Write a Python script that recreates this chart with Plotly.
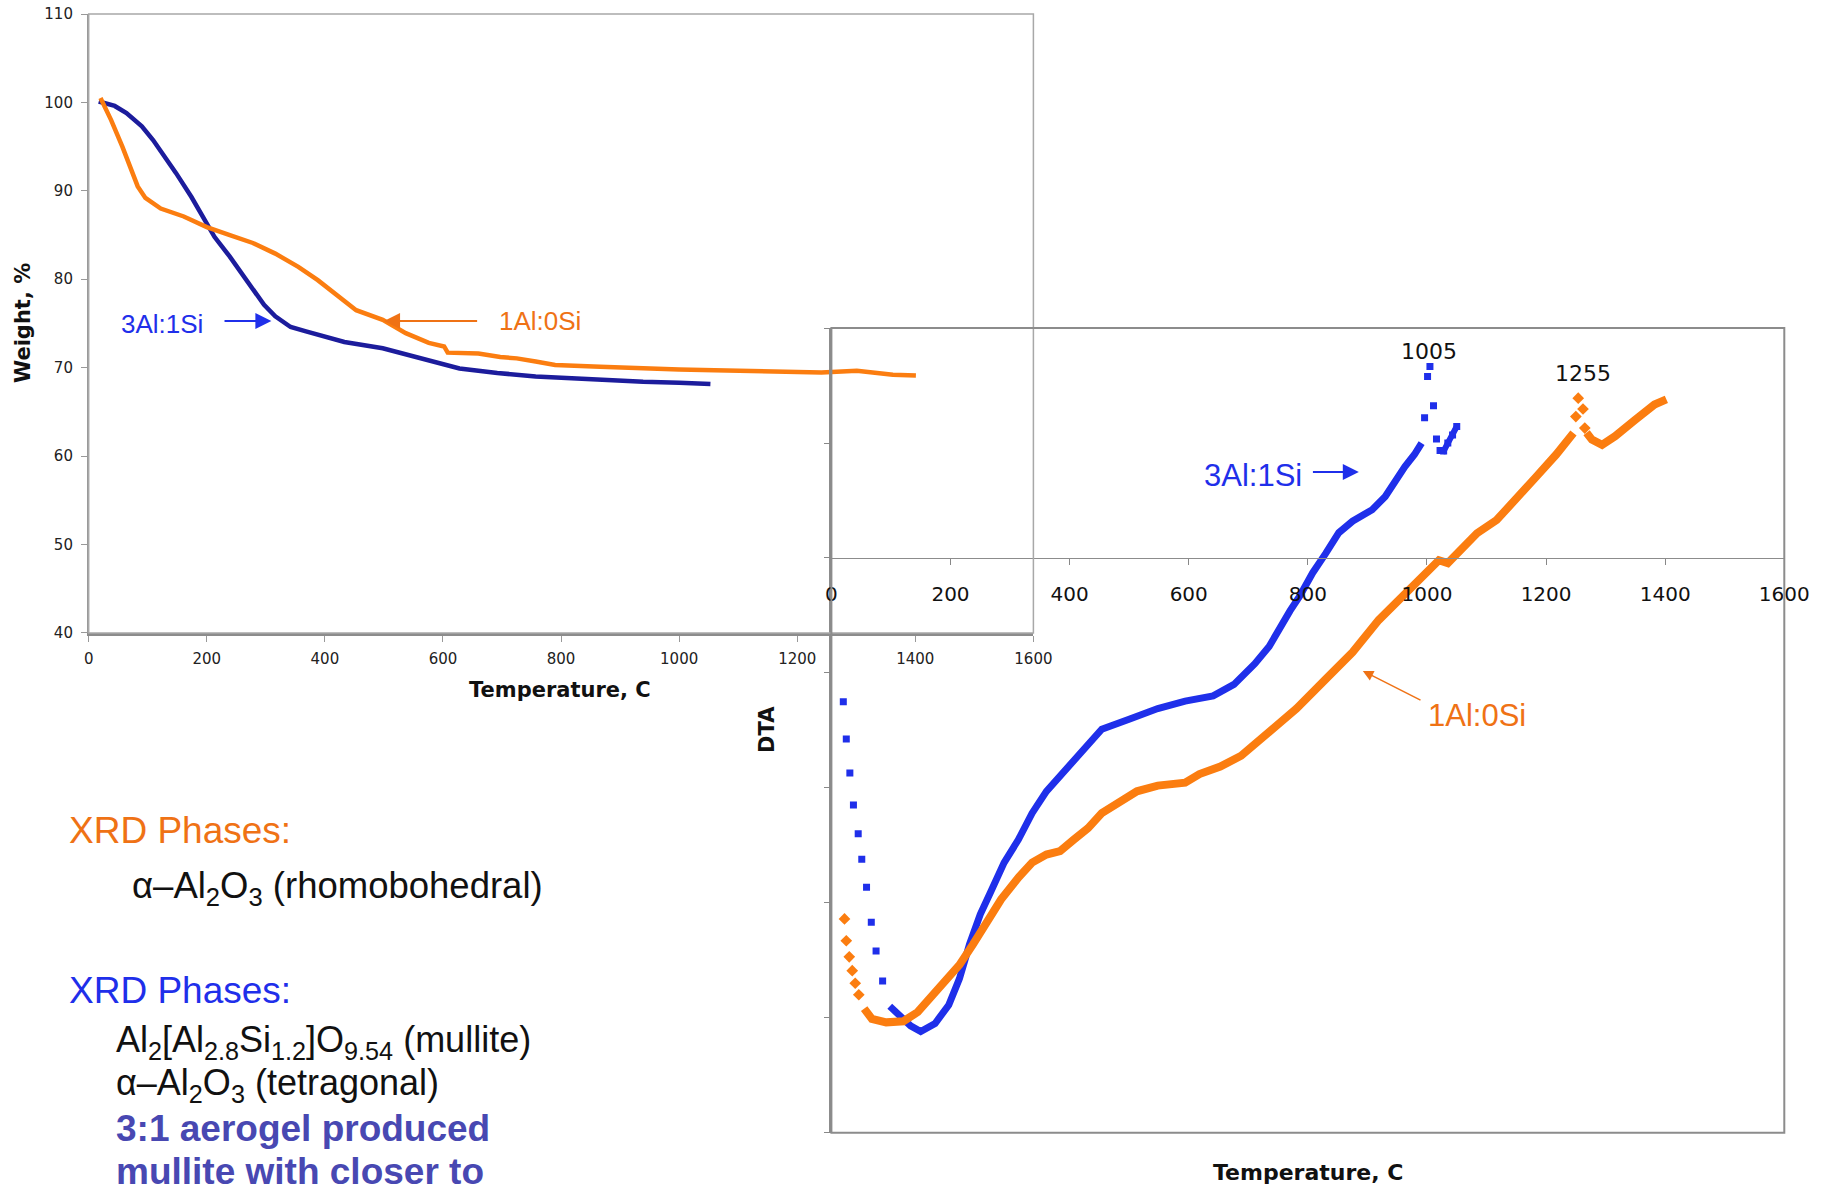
import plotly.graph_objects as go

# ---- TGA (weight loss) data ----
tga_3al_x = [17, 44, 64, 90, 109, 129, 148, 174, 193, 213, 239, 258, 278, 297, 316, 342, 368, 401, 433,
             498, 563, 628, 692, 757, 818, 866, 939, 1000, 1053]
tga_3al_y = [100.1, 99.6, 98.8, 97.3, 95.75, 93.9, 92.0, 89.3, 87.1, 84.8, 82.55, 80.7, 78.8, 77.1, 75.8,
             74.6, 74.1, 73.5, 72.9, 72.2, 71.05, 69.9, 69.4, 69.0, 68.8, 68.6, 68.4, 68.3, 68.15]

tga_1al_x = [20, 38, 57, 70, 83, 96, 122, 161, 200, 239, 278, 316, 355, 388, 420, 453, 498, 537, 576,
             602, 608, 660, 697, 725, 757, 790, 866, 939, 1000, 1060, 1150, 1241, 1301, 1362, 1401]
tga_1al_y = [100.5, 98.0, 95.0, 92.7, 90.5, 89.2, 88.0, 87.1, 85.9, 85.0, 84.1, 82.9, 81.4, 79.9, 78.2,
             76.5, 75.4, 73.9, 72.8, 72.4, 71.7, 71.6, 71.2, 71.05, 70.7, 70.3, 70.1, 69.9, 69.8, 69.7,
             69.6, 69.45, 69.65, 69.2, 69.1]

# ---- DTA data (3Al:1Si, squares) ----
dta_3al_start_x = [20, 25, 31, 37, 45, 51, 59, 67, 75, 86]
dta_3al_start_y = [-1.25, -1.575, -1.87, -2.15, -2.40, -2.62, -2.865, -3.17, -3.42, -3.68]
dta_3al_x = [98, 113, 133, 150, 174, 197, 215, 232, 250, 267, 290, 314, 337, 361, 396, 431, 454, 501,
             548, 594, 641, 676, 711, 735, 758, 770, 786, 808, 830, 852, 875, 908, 930, 946, 963, 979, 991]
dta_3al_y = [-3.90, -3.98, -4.07, -4.12, -4.05, -3.89, -3.66, -3.36, -3.10, -2.91, -2.65, -2.45, -2.22,
             -2.03, -1.83, -1.62, -1.49, -1.40, -1.31, -1.245, -1.20, -1.10, -0.92, -0.77, -0.55, -0.46,
             -0.335, -0.13, 0.04, 0.22, 0.32, 0.42, 0.535, 0.665, 0.795, 0.90, 1.0]
dta_3al_peak_x = [996, 1001, 1005, 1011, 1016]
dta_3al_peak_y = [1.22, 1.58, 1.667, 1.325, 1.035]
dta_3al_tail_x = [1022, 1028, 1035, 1043, 1050]
dta_3al_tail_y = [0.936, 0.93, 1.0, 1.07, 1.144]

# ---- DTA data (1Al:0Si, diamonds) ----
dta_1al_start_x = [22, 25, 30, 35, 40, 46]
dta_1al_start_y = [-3.14, -3.33, -3.47, -3.59, -3.70, -3.80]
dta_1al_x = [55, 68, 92, 121, 145, 168, 191, 215, 238, 261, 285, 314, 337, 361, 384, 407, 431, 454, 483,
             513, 548, 594, 618, 653, 688, 735, 781, 828, 875, 919, 963, 1007, 1020, 1035, 1051, 1084,
             1117, 1150, 1184, 1217, 1239, 1246]
dta_1al_y = [-3.92, -4.01, -4.04, -4.03, -3.95, -3.82, -3.69, -3.54, -3.36, -3.17, -2.97, -2.78, -2.65,
             -2.58, -2.55, -2.45, -2.35, -2.22, -2.125, -2.03, -1.98, -1.955, -1.88, -1.815, -1.72,
             -1.505, -1.31, -1.065, -0.82, -0.54, -0.305, -0.075, -0.02, -0.045, 0.04, 0.215, 0.33,
             0.505, 0.71, 0.90, 1.06, 1.087]
dta_1al_peak_x = [1250, 1254, 1262, 1265]
dta_1al_peak_y = [1.23, 1.39, 1.296, 1.13]
dta_1al_tail_x = [1268, 1277, 1294, 1316, 1349, 1382, 1402]
dta_1al_tail_y = [1.09, 1.03, 0.985, 1.06, 1.20, 1.335, 1.38]

temp_ticks = [0, 200, 400, 600, 800, 1000, 1200, 1400, 1600]

# colours
navy = '#1c1c9c'
blue = '#1f2fea'
orange = '#fb7d10'
orange_txt = '#ef7215'
slate = '#4848b2'
axis_grey = '#999999'

W, H = 1831, 1189
tick_font = dict(family='DejaVu Sans', size=15, color='#222222')
arial = 'Liberation Sans, Arial, sans-serif'

fig = go.Figure()

# TGA curves
fig.add_trace(go.Scatter(x=tga_3al_x, y=tga_3al_y, mode='lines', line=dict(color=navy, width=4.5),
                         xaxis='x', yaxis='y', showlegend=False))
fig.add_trace(go.Scatter(x=tga_1al_x, y=tga_1al_y, mode='lines', line=dict(color=orange, width=4.5),
                         xaxis='x', yaxis='y', showlegend=False))

# DTA curves
sq = dict(color=blue, symbol='square', size=7)
dm = dict(color=orange, symbol='diamond', size=9)
fig.add_trace(go.Scatter(x=dta_3al_start_x, y=dta_3al_start_y, mode='markers', marker=sq,
                         xaxis='x2', yaxis='y2', showlegend=False))
fig.add_trace(go.Scatter(x=dta_3al_x, y=dta_3al_y, mode='lines', line=dict(color=blue, width=7),
                         xaxis='x2', yaxis='y2', showlegend=False))
fig.add_trace(go.Scatter(x=dta_3al_peak_x, y=dta_3al_peak_y, mode='markers', marker=sq,
                         xaxis='x2', yaxis='y2', showlegend=False))
fig.add_trace(go.Scatter(x=dta_3al_tail_x, y=dta_3al_tail_y, mode='lines+markers',
                         line=dict(color=blue, width=6), marker=sq,
                         xaxis='x2', yaxis='y2', showlegend=False))
fig.add_trace(go.Scatter(x=dta_1al_start_x, y=dta_1al_start_y, mode='markers', marker=dm,
                         xaxis='x2', yaxis='y2', showlegend=False))
fig.add_trace(go.Scatter(x=dta_1al_x, y=dta_1al_y, mode='lines', line=dict(color=orange, width=8),
                         xaxis='x2', yaxis='y2', showlegend=False))
fig.add_trace(go.Scatter(x=dta_1al_peak_x, y=dta_1al_peak_y, mode='markers', marker=dm,
                         xaxis='x2', yaxis='y2', showlegend=False))
fig.add_trace(go.Scatter(x=dta_1al_tail_x, y=dta_1al_tail_y, mode='lines', line=dict(color=orange, width=8),
                         xaxis='x2', yaxis='y2', showlegend=False))

annotations = []

def label(text, x, y, size, color, xref='paper', yref='paper', xanchor='center', angle=0, family=arial):
    annotations.append(dict(text=text, x=x, y=y, xref=xref, yref=yref, xanchor=xanchor,
                            yanchor='middle', showarrow=False, textangle=angle,
                            font=dict(family=family, size=size, color=color)))

def arrow(x0, y0, x1, y1, color, xref, yref, width=2, head=1.6):
    annotations.append(dict(text='', x=x1, y=y1, ax=x0, ay=y0, xref=xref, yref=yref,
                            axref=xref, ayref=yref, showarrow=True, arrowhead=2,
                            arrowsize=head, arrowwidth=width, arrowcolor=color))

# axis titles
label('<b>Weight, %</b>', 23 / W, 1 - 323 / H, 21, '#111111', angle=-90, family='DejaVu Sans')
label('<b>Temperature, C</b>', 560 / W, 1 - 690 / H, 21, '#111111', family='DejaVu Sans')
label('<b>DTA</b>', 767 / W, 1 - 730 / H, 21, '#111111', angle=-90, family='DejaVu Sans')
label('<b>Temperature, C</b>', 1308 / W, 1 - 1172 / H, 22, '#111111', family='DejaVu Sans')

# TGA callouts
label('3Al:1Si', 123.5, 74.9, 26, blue, 'x', 'y')
arrow(227.5, 75.28, 309.4, 75.28, blue, 'x', 'y')
label('1Al:0Si', 764.4, 75.28, 26, orange_txt, 'x', 'y')
arrow(660.4, 75.28, 500.2, 75.28, orange_txt, 'x', 'y')

# DTA callouts
label('3Al:1Si', 708, 0.715, 31, blue, 'x2', 'y2')
arrow(806, 0.748, 885.6, 0.748, blue, 'x2', 'y2')
label('1Al:0Si', 1084, -1.373, 31, orange_txt, 'x2', 'y2')
arrow(991.7, -1.243, 892.3, -0.983, orange_txt, 'x2', 'y2', width=1.5, head=1.4)
label('1005', 1003, 1.797, 22, '#111111', 'x2', 'y2', family='DejaVu Sans')
label('1255', 1261.5, 1.609, 22, '#111111', 'x2', 'y2', family='DejaVu Sans')

# XRD notes
label('XRD Phases:', 67 / W, 1 - 830 / H, 37, orange_txt, xanchor='left')
label('\u03b1\u2013Al<sub>2</sub>O<sub>3</sub> (rhomobohedral)', 130 / W, 1 - 888 / H, 36.5, '#111111',
      xanchor='left')
label('XRD Phases:', 67 / W, 1 - 990 / H, 37, blue, xanchor='left')
label('Al<sub>2</sub>[Al<sub>2.8</sub>Si<sub>1.2</sub>]O<sub>9.54</sub> (mullite)', 114 / W, 1 - 1042 / H, 36,
      '#111111', xanchor='left')
label('\u03b1\u2013Al<sub>2</sub>O<sub>3</sub> (tetragonal)', 114 / W, 1 - 1085 / H, 36, '#111111',
      xanchor='left')
label('<b>3:1 aerogel produced</b>', 114 / W, 1 - 1128 / H, 37, slate, xanchor='left')
label('<b>mullite with closer to</b>', 114 / W, 1 - 1171 / H, 37, slate, xanchor='left')

shapes = [
    dict(type='rect', xref='x domain', yref='y domain', x0=0, x1=1, y0=0, y1=1,
         line=dict(color='#a8a8a8', width=1.5)),
    dict(type='rect', xref='x2 domain', yref='y2 domain', x0=0, x1=1, y0=0, y1=1,
         line=dict(color='#8c8c8c', width=2)),
]

fig.update_layout(
    width=W, height=H,
    margin=dict(l=0, r=0, t=0, b=0, pad=0),
    paper_bgcolor='white', plot_bgcolor='rgba(0,0,0,0)',
    showlegend=False,
    annotations=annotations,
    shapes=shapes,
    xaxis=dict(domain=[88.7 / W, 1033.4 / W], anchor='y', range=[0, 1600], tickvals=temp_ticks,
               ticks='outside', ticklen=6, tickcolor=axis_grey, showline=True, linecolor='#8c8c8c',
               linewidth=2.5, showgrid=False, zeroline=False, tickfont=tick_font, ticklabelstandoff=4,
               automargin=False),
    yaxis=dict(domain=[1 - 632.9 / H, 1 - 14 / H], anchor='x', range=[40, 110], dtick=10,
               ticks='outside', ticklen=6, tickcolor=axis_grey, showline=True, linecolor=axis_grey,
               linewidth=1.5, showgrid=False, zeroline=False, tickfont=tick_font, ticklabelstandoff=5,
               automargin=False),
    xaxis2=dict(domain=[831.4 / W, 1784.3 / W], anchor='free', position=1 - 558.2 / H,
                range=[0, 1600], tickvals=temp_ticks, ticks='outside', ticklen=6, tickcolor='#888888',
                showline=True, linecolor='#8c8c8c', linewidth=1.2, showgrid=False, zeroline=False,
                tickfont=dict(family='DejaVu Sans', size=20, color='#111111'), ticklabelstandoff=12,
                automargin=False),
    yaxis2=dict(domain=[1 - 1132.7 / H, 1 - 328.1 / H], anchor='x2', range=[-5, 2], dtick=1,
                ticks='outside', ticklen=6, tickcolor='#888888', showticklabels=False,
                showline=True, linecolor='#8c8c8c', linewidth=1.5, showgrid=False, zeroline=False,
                automargin=False),
    # tick marks only, seen on the right edge of the DTA frame
    yaxis3=dict(overlaying='y2', side='right', anchor='x2', range=[0, 1],
                tickvals=[0.110, 0.222, 0.334, 0.4456, 0.554, 0.778, 0.891],
                ticks='outside', ticklen=7, tickcolor='#aaaaaa', showticklabels=False,
                showline=False, showgrid=False, zeroline=False, automargin=False),
)

fig.write_html("out.html", config={'displayModeBar': False},
               post_script="document.body.style.margin='0';")
